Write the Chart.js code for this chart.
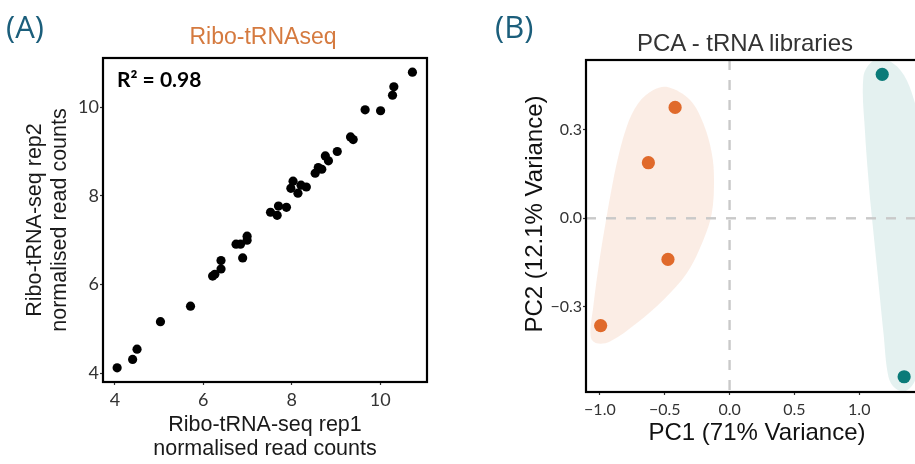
<!DOCTYPE html>
<html>
<head>
<meta charset="utf-8">
<script src="https://cdn.jsdelivr.net/npm/chart.js@4.4.0/dist/chart.umd.min.js"></script>
<style>
  html, body { margin: 0; padding: 0; width: 915px; height: 464px; overflow: hidden; background: #fff; }
  .panel { position: absolute; top: 0; height: 464px; }
  .tag { position: absolute; font-family: "Open Sans"; font-size: 31px; line-height: 31px; color: #1b5e7b; white-space: nowrap; }
  .ttl { position: absolute; font-family: "Liberation Sans", Arial, sans-serif; line-height: 1; white-space: nowrap; transform: translateX(-50%); }
</style>
</head>
<body>
<div class="panel" style="left:0; width:460px;"><canvas id="chartA"></canvas></div>
<div class="panel" style="left:460px; width:480px;"><canvas id="chartB"></canvas></div>

<div class="tag" style="left:6px; top:11px;">(A)</div>
<div class="tag" style="left:495px; top:11px;">(B)</div>
<div class="ttl" style="left:263px; top:25px; font-size:23px; color:#d57a3f;">Ribo-tRNAseq</div>
<div class="ttl" style="left:745px; top:30.7px; font-size:24px; color:#333;">PCA - tRNA libraries</div>

<script>
// panel A: replicate correlation
const rep1 = [4.05, 4.40, 4.50, 5.03, 5.71, 6.21, 6.26, 6.40, 6.40, 6.89, 6.74, 6.84, 6.99, 6.99,
  7.52, 7.67, 7.70, 7.88, 7.98, 8.03, 8.14, 8.21, 8.33, 8.53, 8.60, 8.68, 8.76, 8.83, 9.03,
  9.33, 9.39, 9.66, 10.01, 10.28, 10.31, 10.73];
const rep2 = [4.12, 4.31, 4.54, 5.16, 5.51, 6.19, 6.23, 6.35, 6.54, 6.60, 6.91, 6.91, 7.00, 7.09,
  7.63, 7.56, 7.77, 7.74, 8.17, 8.33, 8.06, 8.24, 8.20, 8.51, 8.64, 8.60, 8.90, 8.79, 9.00,
  9.33, 9.27, 9.94, 9.92, 10.27, 10.46, 10.79];
const ticksA = [4, 6, 8, 10];
const r2Text = "R\u00b2 = 0.98";

// panel B: PCA
const riboPC1 = [-0.42, -0.626, -0.475, -0.994];
const riboPC2 = [0.375, 0.188, -0.139, -0.363];
const otherPC1 = [1.177, 1.346];
const otherPC2 = [0.487, -0.536];
// ellipse outlines
const riboHullX = [-0.935, -0.870, -0.793, -0.704, -0.588, -0.472, -0.305, -0.202, -0.137, -0.120,
  -0.137, -0.202, -0.330, -0.511, -0.717, -0.922, -1.025, -1.071, -1.051, -0.999, -0.935];
const riboHullY = [0.039, 0.186, 0.310, 0.389, 0.434, 0.443, 0.400, 0.321, 0.220, 0.130,
  0.017, -0.073, -0.186, -0.276, -0.355, -0.417, -0.423, -0.401, -0.299, -0.130, 0.039];
const otherHullX = [1.084, 1.045, 1.032, 1.097, 1.187, 1.316, 1.406, 1.50, 1.55, 1.52,
  1.431, 1.354, 1.277, 1.225, 1.187, 1.136, 1.084];
const otherHullY = [0.062, 0.288, 0.479, 0.530, 0.540, 0.502, 0.423, 0.25, -0.05, -0.35,
  -0.547, -0.585, -0.575, -0.536, -0.389, -0.164, 0.062];
const ticksBx = [-1, -0.5, 0, 0.5, 1];
const labelsBx = ["\u22121.0", "\u22120.5", "0.0", "0.5", "1.0"];
const ticksBy = [0.3, 0, -0.3];
const labelsBy = ["0.3", "0.0", "\u22120.3"];

const xyPairs = (xs, ys) => xs.map((x, i) => ({ x: x, y: ys[i] }));

// black box round the panel, like ggplot's panel.border
const panelBorder = {
  id: "panelBorder",
  afterDatasetsDraw(chart) {
    const { ctx, chartArea: a } = chart;
    ctx.save();
    ctx.strokeStyle = "#000";
    ctx.lineWidth = 2.2;
    ctx.strokeRect(a.left, a.top, a.right - a.left, a.bottom - a.top);
    ctx.restore();
  }
};

const r2Label = {
  id: "r2Label",
  afterDraw(chart) {
    const { ctx, chartArea: a } = chart;
    ctx.save();
    ctx.font = "bold 21px Lato";
    ctx.fillStyle = "#000";
    ctx.textBaseline = "alphabetic";
    ctx.fillText(r2Text, a.left + 14, a.top + 28.5);
    ctx.restore();
  }
};

const tickGrid = { drawOnChartArea: false, tickLength: 3, tickColor: "#333", tickWidth: 1.2 };

new Chart(document.getElementById("chartA"), {
  type: "scatter",
  data: {
    datasets: [{
      data: xyPairs(rep1, rep2),
      backgroundColor: "#000",
      pointRadius: 4.6,
      pointBorderWidth: 0,
      pointHoverRadius: 4.6
    }]
  },
  options: {
    responsive: true,
    maintainAspectRatio: false,
    animation: false,
    devicePixelRatio: 1,
    layout: { padding: { top: 58, right: 33, left: 0, bottom: 0 } },
    plugins: { legend: { display: false }, tooltip: { enabled: false } },
    scales: {
      x: {
        type: "linear", min: 3.73, max: 11.06,
        afterBuildTicks(s) { s.ticks = ticksA.map(v => ({ value: v })); },
        afterFit(s) { s.height = 82; },
        grid: tickGrid,
        border: { display: false },
        ticks: { font: { family: "Lato", size: 18 }, color: "#333", padding: 4, maxRotation: 0 },
        title: {
          display: true,
          text: ["Ribo-tRNA-seq rep1", "normalised read counts"],
          font: { family: "Liberation Sans", size: 21.5, lineHeight: 1.12 },
          color: "#1a1a1a",
          padding: { top: 0, bottom: 2.5 }
        }
      },
      y: {
        type: "linear", min: 3.80, max: 11.11,
        afterBuildTicks(s) { s.ticks = ticksA.map(v => ({ value: v })); },
        afterFit(s) { s.width = 103; },
        grid: tickGrid,
        border: { display: false },
        ticks: { font: { family: "Lato", size: 18 }, color: "#333", padding: 1 },
        title: {
          display: true,
          text: ["Ribo-tRNA-seq rep2", "normalised read counts"],
          font: { family: "Liberation Sans", size: 21.5, lineHeight: 1.12 },
          color: "#1a1a1a",
          padding: { top: 23.5, bottom: 0 }
        }
      }
    }
  },
  plugins: [panelBorder, r2Label]
});

const bxMin = -1.107, bxMax = 1.53, byMin = -0.5876, byMax = 0.5355;
const dashLine = { showLine: true, borderColor: "#c9c9c9", borderWidth: 2.4, borderDash: [10, 10], pointRadius: 0, pointHoverRadius: 0, fill: false };

new Chart(document.getElementById("chartB"), {
  type: "scatter",
  data: {
    datasets: [
      { data: xyPairs(riboPC1, riboPC2), backgroundColor: "#e06a2b", pointRadius: 6.6, pointBorderWidth: 0, pointHoverRadius: 6.6 },
      { data: xyPairs(otherPC1, otherPC2), backgroundColor: "#0b7b79", pointRadius: 6.6, pointBorderWidth: 0, pointHoverRadius: 6.6 },
      Object.assign({ data: [{ x: 0, y: byMax }, { x: 0, y: byMin }] }, dashLine),
      Object.assign({ data: [{ x: bxMin, y: 0 }, { x: bxMax, y: 0 }] }, dashLine),
      {
        data: xyPairs(riboHullX, riboHullY), showLine: true, fill: "shape", tension: 0.35,
        backgroundColor: "rgba(224,106,43,0.12)", borderWidth: 0, pointRadius: 0, pointHoverRadius: 0
      },
      {
        data: xyPairs(otherHullX, otherHullY), showLine: true, fill: "shape", tension: 0.35,
        backgroundColor: "rgba(11,123,121,0.11)", borderWidth: 0, pointRadius: 0, pointHoverRadius: 0
      }
    ]
  },
  options: {
    responsive: true,
    maintainAspectRatio: false,
    animation: false,
    devicePixelRatio: 1,
    layout: { padding: { top: 60, right: 12, left: 0, bottom: 0 } },
    plugins: { legend: { display: false }, tooltip: { enabled: false } },
    scales: {
      x: {
        type: "linear", min: bxMin, max: bxMax,
        afterBuildTicks(s) { s.ticks = ticksBx.map(v => ({ value: v })); },
        afterFit(s) { s.height = 72; },
        grid: tickGrid,
        border: { display: false },
        ticks: {
          font: { family: "Lato", size: 16 }, color: "#333", padding: 5, maxRotation: 0,
          callback: v => labelsBx[ticksBx.indexOf(v)]
        },
        title: {
          display: true,
          text: "PC1 (71% Variance)",
          font: { family: "Liberation Sans", size: 24, lineHeight: 1.2 },
          color: "#111",
          padding: { top: 0, bottom: 16.3 }
        }
      },
      y: {
        type: "linear", min: byMin, max: byMax,
        afterBuildTicks(s) { s.ticks = ticksBy.map(v => ({ value: v })); },
        afterFit(s) { s.width = 126; },
        grid: tickGrid,
        border: { display: false },
        ticks: {
          font: { family: "Lato", size: 16 }, color: "#333", padding: 1,
          callback: v => labelsBy[ticksBy.indexOf(v)]
        },
        title: {
          display: true,
          // two en-spaces in front nudge the centred title up, as in the original
          text: "\u2002\u2002PC2 (12.1% Variance)",
          font: { family: "Liberation Sans", size: 24, lineHeight: 1.2 },
          color: "#111",
          padding: { top: 60.6, bottom: 0 }
        }
      }
    }
  },
  plugins: [panelBorder]
});
</script>
</body>
</html>
